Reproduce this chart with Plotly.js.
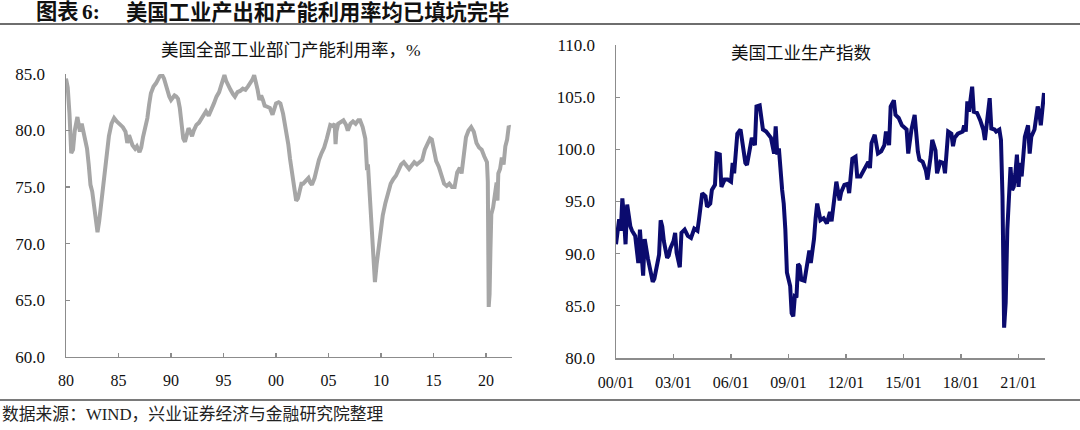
<!DOCTYPE html>
<html>
<head>
<meta charset="utf-8">
<script src="https://cdn.plot.ly/plotly-3.0.1.min.js"></script>
<style>
html,body{margin:0;padding:0;background:#fff;}
#chart{width:1080px;height:430px;}
</style>
</head>
<body>
<div id="chart"></div>
<script>
// ---- Data ----
const headerLabel = "图表";
const headerNumber = "6:";
const headerText = "美国工业产出和产能利用率均已填坑完毕";
const leftTitle = "美国全部工业部门产能利用率，%";
const rightTitle = "美国工业生产指数";
const sourceText = "数据来源：WIND，兴业证券经济与金融研究院整理";

// US capacity utilization, all industry (%)
const capDates = ["1980-01","1980-03","1980-05","1980-07","1980-09","1980-11","1981-02","1981-04","1981-05","1981-07","1981-09",
"1982-01","1982-03","1982-05","1982-07","1982-09","1982-11","1983-01","1983-03","1983-05","1983-08","1983-11",
"1984-02","1984-05","1984-08","1984-11","1985-02","1985-06","1985-09","1985-11","1986-01","1986-03","1986-05","1986-08","1986-10",
"1987-01","1987-03","1987-05","1987-08","1987-10","1987-12","1988-02","1988-05","1988-08","1988-12","1989-03","1989-05","1989-07","1989-09","1989-11",
"1990-01","1990-03","1990-05","1990-07","1990-09","1990-11","1991-01","1991-03","1991-05","1991-07","1991-09","1991-11",
"1992-01","1992-03","1992-06","1992-09","1992-12","1993-03","1993-05","1993-08","1993-11","1994-02","1994-05","1994-08","1994-10","1994-12",
"1995-02","1995-04","1995-06","1995-09","1995-12","1996-02","1996-05","1996-08","1996-11","1997-02","1997-05","1997-08","1997-10","1997-12",
"1998-02","1998-04","1998-06","1998-08","1998-10","1998-12","1999-03","1999-06","1999-09","1999-11",
"2000-01","2000-04","2000-06","2000-09","2000-11","2001-01","2001-03","2001-05","2001-07","2001-09","2001-11","2001-12",
"2002-02","2002-04","2002-06","2002-08","2002-11","2003-02","2003-04","2003-06","2003-09","2003-11",
"2004-02","2004-05","2004-08","2004-11","2005-01","2005-03","2005-06","2005-08","2005-09","2005-10","2005-12",
"2006-03","2006-06","2006-09","2006-11","2007-02","2007-05","2007-08","2007-11","2008-01","2008-04","2008-07","2008-09","2008-10","2008-12",
"2009-02","2009-04","2009-06","2009-08","2009-10","2009-12","2010-03","2010-06","2010-09","2010-12",
"2011-03","2011-06","2011-09","2011-12","2012-03","2012-06","2012-09","2012-12","2013-03","2013-06","2013-09","2013-12",
"2014-03","2014-06","2014-09","2014-11","2015-01","2015-04","2015-07","2015-10","2016-01","2016-04","2016-07","2016-10",
"2017-01","2017-04","2017-07","2017-09","2017-11","2018-02","2018-05","2018-08","2018-11","2019-02","2019-05","2019-08","2019-11",
"2020-02","2020-03","2020-04","2020-05","2020-06","2020-07","2020-09","2020-11","2021-01","2021-02","2021-03","2021-05","2021-07","2021-09","2021-11",
"2022-01","2022-03","2022-04"];
const capValues = [84.6,83.8,81.5,78.0,78.3,80.0,81.2,80.3,79.9,80.6,79.8,
78.4,77.0,75.2,74.6,73.5,72.0,71.0,72.0,73.5,75.5,77.3,
79.5,80.6,81.1,80.8,80.6,80.3,79.9,78.9,79.6,79.2,78.7,78.4,78.6,
78.1,78.5,79.4,80.4,81.1,82.3,83.3,83.9,84.2,84.8,84.9,84.6,84.0,83.3,83.0,
82.7,82.9,83.1,83.0,82.8,82.0,80.5,79.3,79.0,79.6,80.2,79.9,
79.5,80.0,80.5,80.7,81.1,81.4,81.7,81.3,81.8,82.4,83.0,83.4,83.9,84.4,
84.9,84.4,84.0,83.6,83.2,83.0,83.4,83.5,83.7,83.6,83.9,84.2,84.5,84.9,
84.3,83.6,82.7,83.1,82.7,82.2,82.1,82.0,81.4,82.0,
82.4,82.5,82.4,81.5,80.7,79.8,78.8,77.5,76.3,75.1,74.2,73.8,
74.0,74.6,75.3,75.3,75.5,75.8,75.4,75.2,75.8,76.6,
77.4,78.0,78.5,79.3,80.1,80.5,80.4,80.6,78.8,79.9,80.6,
80.8,80.9,80.5,80.0,80.6,80.8,80.6,80.9,80.9,80.3,79.3,76.5,77.0,74.0,
70.8,68.0,66.6,68.2,69.5,71.0,72.5,73.6,74.5,75.3,
75.7,76.0,76.5,77.0,77.2,76.9,76.6,76.9,77.2,77.0,77.2,77.4,
78.3,78.9,79.3,79.2,78.2,77.3,76.8,76.0,75.3,75.1,75.3,75.0,
75.0,76.3,76.7,76.2,77.8,79.4,80.0,80.3,79.9,78.9,78.5,78.3,77.7,
77.2,75.5,64.4,65.5,69.5,72.6,73.2,74.4,75.4,73.8,76.2,76.6,77.6,77.0,78.6,
79.2,80.4,80.3];

// US industrial production index
const ipDates = ["2000-01","2000-02","2000-03","2000-04","2000-05","2000-06","2000-07","2000-08","2000-09","2000-10","2000-11","2000-12",
"2001-01","2001-03","2001-04","2001-06","2001-07","2001-09","2001-11","2001-12",
"2002-01","2002-02","2002-03","2002-04","2002-05","2002-06","2002-07","2002-08","2002-09","2002-10","2002-11",
"2003-01","2003-02","2003-03","2003-05","2003-06","2003-08","2003-10","2003-12",
"2004-02","2004-04","2004-05","2004-06","2004-07","2004-09","2004-10","2004-12",
"2005-01","2005-03","2005-04","2005-06","2005-07","2005-09","2005-11",
"2006-01","2006-02","2006-03","2006-05","2006-07","2006-08","2006-10","2006-11",
"2007-01","2007-02","2007-04","2007-05","2007-07","2007-09","2007-11",
"2008-01","2008-02","2008-04","2008-05","2008-06","2008-07","2008-09","2008-10","2008-11","2008-12",
"2009-02","2009-03","2009-04","2009-05","2009-06","2009-07","2009-08","2009-09","2009-11",
"2010-01","2010-02","2010-03","2010-04","2010-05","2010-06","2010-07","2010-09","2010-11",
"2011-01","2011-03","2011-04","2011-06","2011-07","2011-09","2011-10","2011-12",
"2012-02","2012-03","2012-05","2012-07","2012-08","2012-10","2012-12",
"2013-03","2013-04","2013-05","2013-07","2013-09","2013-11",
"2014-01","2014-02","2014-04","2014-05","2014-07","2014-08","2014-10","2014-12",
"2015-03","2015-04","2015-06","2015-08","2015-09","2015-10","2015-11",
"2016-01","2016-03","2016-04","2016-06","2016-07","2016-09","2016-10","2016-12",
"2017-02","2017-03","2017-05","2017-07","2017-08","2017-09","2017-11",
"2018-02","2018-03","2018-04","2018-05","2018-06","2018-08","2018-09","2018-11",
"2019-01","2019-03","2019-04","2019-06","2019-07","2019-08","2019-10","2019-11",
"2020-01","2020-02","2020-03","2020-04","2020-05","2020-06","2020-07","2020-08","2020-09","2020-10","2020-11","2020-12",
"2021-01","2021-02","2021-03","2021-05","2021-07","2021-08","2021-09","2021-11",
"2022-01","2022-02","2022-03","2022-05"];
const ipValues = [90.9,92.7,93.3,92.2,95.3,93.5,90.9,94.7,93.5,92.6,92.2,92.0,
91.7,89.1,92.3,87.9,91.4,89.5,87.7,87.3,
87.6,88.5,89.5,89.9,93.2,92.6,91.2,90.4,89.6,89.8,90.5,
91.2,92.0,90.1,88.7,92.0,92.3,91.7,91.5,
92.4,92.2,93.3,95.1,95.8,95.5,94.5,94.8,
96.1,96.6,99.6,99.5,96.4,97.1,97.1,
96.9,98.7,97.7,101.5,101.9,100.6,98.7,98.5,
100.3,101.1,100.4,104.1,104.2,101.9,101.7,
101.2,101.1,99.6,102.2,99.5,100.1,96.1,94.8,92.3,88.2,
86.9,84.3,84.0,85.9,85.8,89.0,88.8,87.5,87.4,
89.1,90.3,89.1,90.3,91.4,93.4,94.8,93.2,93.4,
92.9,94.0,93.1,95.6,96.9,95.1,95.9,96.6,
96.7,95.8,99.1,99.3,97.4,97.4,98.0,
98.8,98.2,100.6,101.4,99.6,99.8,
100.4,101.7,100.4,104.1,104.7,103.3,103.0,102.3,
101.9,99.6,101.9,103.3,101.2,99.8,99.0,
98.8,98.0,97.1,99.3,100.9,99.9,97.7,98.8,
98.7,97.7,101.7,101.5,100.3,101.1,101.5,
101.7,102.3,101.7,104.6,103.6,106.0,103.6,103.5,
102.8,101.9,100.9,103.9,104.9,102.0,101.9,101.7,
101.9,100.9,95.5,82.9,85.3,92.3,95.8,98.3,96.1,96.4,97.7,99.5,
96.4,98.7,97.4,101.2,102.3,99.6,101.2,101.9,
104.1,103.5,102.3,105.4];

// ---- Layout helpers (pixel -> paper) ----
const W = 1080, H = 430;
const px = x => x / W;
const py = y => 1 - y / H;

const numFont = {family: "Liberation Serif, 'Times New Roman', serif", size: 17, color: "#111"};
const axisColor = "#8c8c8c";

const traces = [
  {x: capDates, y: capValues, type: "scatter", mode: "lines", xaxis: "x", yaxis: "y",
   line: {color: "#a6a6a6", width: 4}, hoverinfo: "skip"},
  {x: ipDates, y: ipValues, type: "scatter", mode: "lines", xaxis: "x2", yaxis: "y2",
   line: {color: "#0b0b6e", width: 4}, hoverinfo: "skip"}
];

function xAx(domain, range, dtick, fmt) {
  return {domain: domain, range: range, type: "date", tick0: range[0], dtick: dtick, tickformat: fmt,
    showgrid: false, zeroline: false, showline: true, linecolor: axisColor, linewidth: 1.5,
    ticks: "inside", ticklen: 4, tickwidth: 1.2, tickcolor: axisColor,
    tickfont: Object.assign({}, numFont, {size: 16}), ticklabelstandoff: 9, fixedrange: true};
}
function yAx(domain, range, anchor) {
  return {domain: domain, range: range, anchor: anchor, dtick: 5, tickformat: ".1f",
    showgrid: false, zeroline: false, showline: true, linecolor: axisColor, linewidth: 1.5,
    ticks: "inside", ticklen: 4, tickwidth: 1.2, tickcolor: axisColor,
    tickfont: numFont, ticklabelstandoff: 16, fixedrange: true};
}

const headFont = {family: "Liberation Serif, 'Noto Sans CJK SC', serif", size: 21.3, color: "#111"};

const layout = {
  width: W, height: H,
  margin: {l: 0, r: 0, t: 0, b: 0},
  paper_bgcolor: "#fff", plot_bgcolor: "#fff",
  showlegend: false,
  xaxis: Object.assign(xAx([px(66), px(511.7)], ["1980-01-01", "2022-06-10"], "M60", "%y"), {anchor: "y"}),
  yaxis: yAx([py(356.7), py(74)], [60, 85], "x"),
  xaxis2: Object.assign(xAx([px(616), px(1045)], ["2000-01-01", "2022-05-20"], "M36", "%y/%m"), {anchor: "y2"}),
  yaxis2: yAx([py(358), py(45)], [80, 110], "x2"),
  shapes: [
    {type: "line", xref: "paper", yref: "paper", x0: 0, x1: 1, y0: py(24), y1: py(24), line: {color: "#6e6e6e", width: 2}},
    {type: "line", xref: "paper", yref: "paper", x0: 0, x1: 1, y0: py(400), y1: py(400), line: {color: "#7a7a7a", width: 2}}
  ],
  annotations: [
    {text: "<b>" + headerLabel + "</b>", xref: "paper", yref: "paper", x: px(34), y: py(12), xanchor: "left", yanchor: "middle",
     showarrow: false, font: headFont},
    {text: "<b>" + headerNumber + "</b>", xref: "paper", yref: "paper", x: px(80), y: py(12), xanchor: "left", yanchor: "middle",
     showarrow: false, font: headFont},
    {text: "<b>" + headerText + "</b>", xref: "paper", yref: "paper", x: px(124), y: py(12), xanchor: "left", yanchor: "middle",
     showarrow: false, font: headFont},
    {text: leftTitle, xref: "paper", yref: "paper", x: px(291), y: py(50), xanchor: "center", yanchor: "middle",
     showarrow: false, font: {family: "Liberation Serif, 'Noto Sans CJK SC', serif", size: 17.5, color: "#111"}},
    {text: rightTitle, xref: "paper", yref: "paper", x: px(801), y: py(51), xanchor: "center", yanchor: "middle",
     showarrow: false, font: {family: "'Noto Sans CJK SC', sans-serif", size: 17.5, color: "#111"}},
    {text: sourceText, xref: "paper", yref: "paper", x: px(0), y: py(414), xanchor: "left", yanchor: "middle",
     showarrow: false, font: {family: "Liberation Serif, 'Noto Sans CJK SC', serif", size: 16.8, color: "#222"}}
  ]
};

Plotly.newPlot("chart", traces, layout, {staticPlot: true, displayModeBar: false});
</script>
</body>
</html>
